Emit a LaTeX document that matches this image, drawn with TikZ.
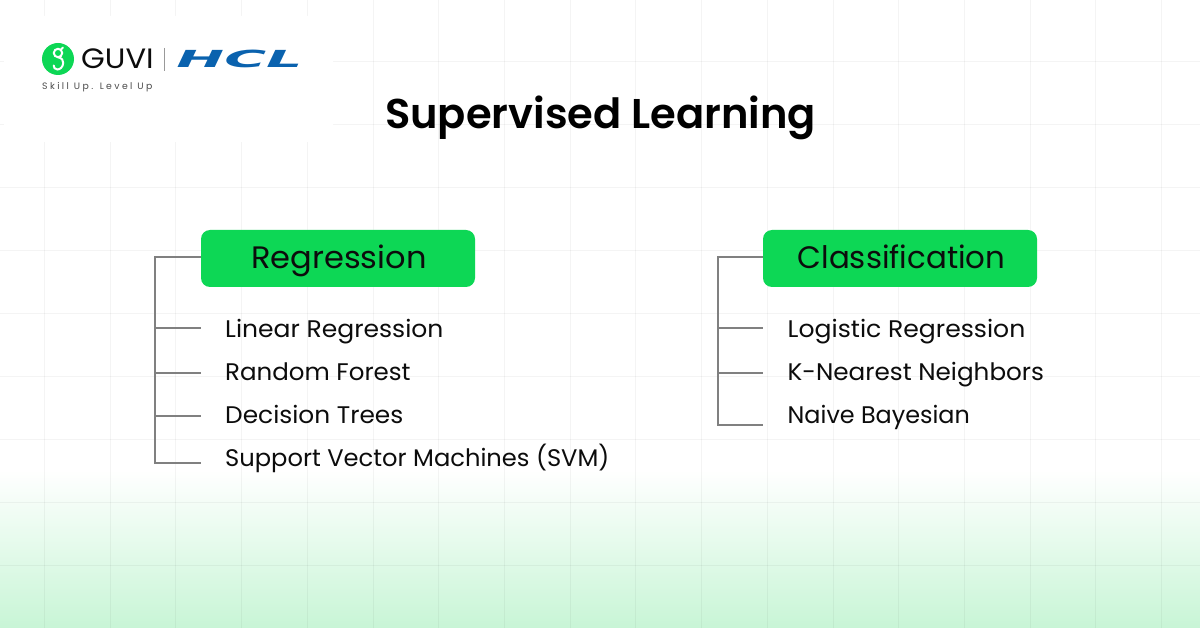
\documentclass[tikz,border=0pt]{standalone}
\usepackage{graphicx}
\usepackage{fontspec}
\setmainfont{Poppins}
\newfontfamily\spaced[LetterSpace=26]{Poppins}
\newfontfamily\semi{Poppins SemiBold}
\newfontfamily\hclfont{DejaVu Sans}
\definecolor{brandgreen}{HTML}{0DD755}
\definecolor{linec}{HTML}{808080}
\definecolor{hclblue}{HTML}{0A62AE}
\definecolor{ink}{HTML}{0C0C0C}
\definecolor{glow}{HTML}{C8F5D6}
\tikzset{
  x=1pt,y=-1pt,
  head/.style={fill=brandgreen,rounded corners=9pt,minimum width=274pt,minimum height=57pt,inner sep=0pt,text=ink,font=\fontsize{31}{33}\selectfont,text height=20.5pt,text depth=0pt,anchor=center},
  itemtext/.style={anchor=base west,inner sep=0pt,text=ink,font=\fontsize{24}{26}\selectfont},
  link/.style={draw=linec,line width=1.7pt},
  trunk/.style={draw=linec,line width=1.9pt,line join=miter},
  gridline/.style={draw=black,draw opacity=0.045,line width=1pt},
}
\begin{document}
\begin{tikzpicture}
\useasboundingbox (0,0) rectangle (1200,628);
\fill[white] (0,0) rectangle (1200,628);
\shade[top color=white,bottom color=glow] (0,470) rectangle (1200,628);
% grid
\foreach \i in {0,...,17} {\draw[gridline] ({44.4+65.72*\i},0) -- ({44.4+65.72*\i},628);}
\foreach \j in {0,...,8} {\draw[gridline] (0,{62+62.96*\j}) -- (1200,{62+62.96*\j});}
\fill[white,rounded corners=6pt] (4,16) rectangle (333,142);
% logo
\fill[brandgreen] (58,59) circle (16);
\draw[white,line width=2pt,line cap=round] (58,53) circle (4.2);
\draw[white,line width=2pt,line cap=round] (61,49.5) -- (63,47.5);
\draw[white,line width=2pt,line cap=round] (58,57.2) .. controls (62,58) and (63.5,60.5) .. (63.2,63) .. controls (63,67) and (60,69.5) .. (57.5,69.5) .. controls (55,69.5) and (53.5,67.5) .. (53.7,65.5);
\node[anchor=base west,inner sep=0pt,text=ink,xscale=1.09,font=\fontsize{28}{30}\selectfont] (guvi) at (81,69) {GUVI};
\draw[draw=black!40,line width=0.7pt] (164.5,48) -- (164.5,71);
\node[anchor=base west,inner sep=0pt,text=hclblue,font=\hclfont\bfseries\itshape\fontsize{23.5}{28}\selectfont,xscale=2.43] (hcl) at (176,68) {HCL};
\node[anchor=base west,inner sep=0pt,text=black!70,font=\spaced\fontsize{9.3}{11}\selectfont] (tag) at (42,90) {Skill Up. Level Up};
% title
\node[anchor=base,inner sep=0pt,text=black,font=\semi\fontsize{41.6}{44}\selectfont] (title) at (600.5,129) {Supervised Learning};
% left
\node[head] (reg) at (338,258.5) {\hspace{2pt}\scalebox{1.035}[1]{Regression}};
\node[itemtext,xscale=1.043] (a1) at (225,338) {Linear Regression};
\node[itemtext,xscale=1.022] (a2) at (225,381) {Random Forest};
\node[itemtext,xscale=1.035] (a3) at (225,424) {Decision Trees};
\node[itemtext,xscale=1.008] (a4) at (225,466.6) {Support Vector Machines (SVM)};
\coordinate (t0) at (155,257);
\coordinate (s1) at (201,328);
\coordinate (s2) at (201,373);
\coordinate (s3) at (201,416);
\coordinate (s4) at (201,463);
\draw[trunk] (reg.west |- t0) -- (t0) -- (t0 |- s4) -- (s4);
\foreach \k in {1,2,3} {\draw[link] (t0 |- s\k) -- (s\k);}
% right
\node[head] (cla) at (900,258.5) {\hspace{3pt}\scalebox{0.995}[1]{Classification}};
\node[itemtext,xscale=1.046] (b1) at (787.5,338) {Logistic Regression};
\node[itemtext,xscale=1.028] (b2) at (787.5,381) {K-Nearest Neighbors};
\node[itemtext,xscale=0.995] (b3) at (787.5,424) {Naive Bayesian};
\coordinate (u0) at (718,257);
\coordinate (r1) at (763,328);
\coordinate (r2) at (763,373);
\coordinate (r3) at (763,425);
\draw[trunk] (cla.west |- u0) -- (u0) -- (u0 |- r3) -- (r3);
\foreach \k in {1,2} {\draw[link] (u0 |- r\k) -- (r\k);}
\end{tikzpicture}
\end{document}
